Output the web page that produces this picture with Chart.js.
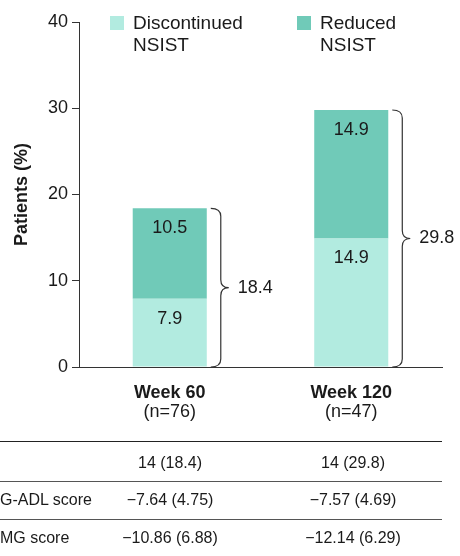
<!DOCTYPE html>
<html>
<head>
<meta charset="utf-8">
<script src="https://cdn.jsdelivr.net/npm/chart.js"></script>
<style>
  body { margin: 0; background: #fff; font-family: "Liberation Sans", Arial, sans-serif; }
  #wrap { position: relative; width: 460px; height: 556px; overflow: hidden; }
  #grafico { position: absolute; left: 0; top: 0; }
  .linha { position: absolute; left: 0; width: 442px; height: 0; border-top: 1px solid #555; }
  .cel { position: absolute; font-size: 16px; color: #1a1a1a; transform: translate(-50%, -50%); white-space: nowrap; }
  .rotulo { position: absolute; left: 0; font-size: 16px; color: #1a1a1a; transform: translateY(-50%); white-space: nowrap; }
</style>
</head>
<body>
<div id="wrap">
  <canvas id="grafico" width="460" height="556"></canvas>
  <div id="tabela"></div>
</div>
<script>
// dados
const semanas = ['Week 60', 'Week 120'];
const amostras = ['(n=76)', '(n=47)'];
const descontinuado = [7.9, 14.9];
const reduzido = [10.5, 14.9];
const ticksY = [0, 10, 20, 30, 40];
const legendas = [['Discontinued', 'NSIST'], ['Reduced', 'NSIST']];
const rotulosTabela = ['', 'G-ADL score', 'MG score'];
const respondedores = ['14 (18.4)', '14 (29.8)'];
const mgadl = ['\u22127.64 (4.75)', '\u22127.57 (4.69)'];
const qmg = ['\u221210.86 (6.88)', '\u221212.14 (6.29)'];

const corClara = '#b2ebe0';
const corEscura = '#70cab8';
const corTexto = '#1a1a1a';
const fonte = '"Liberation Sans", Arial, sans-serif';

// chave (bracket) com o total
function chave(ctx, x, yTop, yBase) {
  const x1 = x + 10, x2 = x + 18, r = 8;
  const meio = (yTop + yBase) / 2;
  ctx.beginPath();
  ctx.moveTo(x, yTop);
  ctx.quadraticCurveTo(x1, yTop, x1, yTop + r);
  ctx.lineTo(x1, meio - r);
  ctx.quadraticCurveTo(x1, meio, x2, meio);
  ctx.quadraticCurveTo(x1, meio, x1, meio + r);
  ctx.lineTo(x1, yBase - r);
  ctx.quadraticCurveTo(x1, yBase, x, yBase);
  ctx.stroke();
}

const extras = {
  id: 'extras',
  afterDatasetsDraw(chart) {
    const ctx = chart.ctx;
    const y = chart.scales.y;
    const x = chart.scales.x;
    ctx.save();
    ctx.fillStyle = corTexto;
    ctx.textAlign = 'center';
    ctx.textBaseline = 'middle';
    ctx.font = '18px ' + fonte;

    // valores dentro das barras
    chart.data.datasets.forEach((ds, i) => {
      chart.getDatasetMeta(i).data.forEach((bar, j) => {
        ctx.fillText(ds.data[j].toFixed(1), bar.x, bar.y + 20);
      });
    });

    // chaves e totais
    ctx.strokeStyle = '#333';
    ctx.lineWidth = 1.2;
    semanas.forEach((s, j) => {
      const bar = chart.getDatasetMeta(0).data[j];
      const direita = bar.x + bar.width / 2;
      const total = descontinuado[j] + reduzido[j];
      const yTop = y.getPixelForValue(total);
      const yBase = y.getPixelForValue(0);
      chave(ctx, direita + 4, yTop, yBase);
      ctx.textAlign = 'left';
      ctx.fillText(total.toFixed(1), direita + 31, (yTop + yBase) / 2);
    });

    // rotulos do eixo x
    ctx.textAlign = 'center';
    semanas.forEach((s, j) => {
      const px = x.getPixelForValue(j);
      ctx.font = 'bold 18px ' + fonte;
      ctx.fillText(s, px, 393);
      ctx.font = '18px ' + fonte;
      ctx.fillText(amostras[j], px, 412);
    });

    // legenda
    const posLeg = [110, 297];
    const cores = [corClara, corEscura];
    ctx.textAlign = 'left';
    ctx.font = '19px ' + fonte;
    legendas.forEach((linhas, i) => {
      ctx.fillStyle = cores[i];
      ctx.fillRect(posLeg[i], 16, 14, 14);
      ctx.fillStyle = corTexto;
      linhas.forEach((t, k) => ctx.fillText(t, posLeg[i] + 23, 24 + k * 22));
    });
    ctx.restore();
  }
};

const ctx = document.getElementById('grafico').getContext('2d');
new Chart(ctx, {
  type: 'bar',
  data: {
    labels: semanas,
    datasets: [
      { label: 'Discontinued NSIST', data: descontinuado, backgroundColor: corClara },
      { label: 'Reduced NSIST', data: reduzido, backgroundColor: corEscura }
    ]
  },
  options: {
    responsive: false,
    animation: false,
    layout: { padding: { top: 22, right: 18, bottom: 129, left: 0 } },
    datasets: { bar: { categoryPercentage: 1, barPercentage: 0.408 } },
    plugins: { legend: { display: false }, tooltip: { enabled: false } },
    scales: {
      x: {
        stacked: true,
        afterFit: s => { s.height = 60; },
        ticks: { display: false },
        grid: { display: false },
        border: { display: true, color: '#333', width: 1 }
      },
      y: {
        stacked: true,
        min: 0,
        max: 40,
        afterFit: s => { s.width = 79; },
        afterBuildTicks: s => { s.ticks = ticksY.map(v => ({ value: v })); },
        ticks: { color: corTexto, padding: 4, font: { size: 18, family: fonte } },
        grid: { drawOnChartArea: false, drawTicks: true, tickLength: 7, color: '#333' },
        border: { display: true, color: '#333', width: 1 },
        title: {
          display: true,
          text: 'Patients (%)',
          color: corTexto,
          padding: { top: 11, bottom: 0 },
          font: { size: 18, weight: 'bold', family: fonte }
        }
      }
    }
  },
  plugins: [extras]
});

// tabela abaixo do grafico
const tabela = document.getElementById('tabela');
const linhasY = [441, 481, 519];
const textoY = [463, 500, 538];
const colunasX = [170, 353];
const valores = [respondedores, mgadl, qmg];

linhasY.forEach((yy, i) => {
  const l = document.createElement('div');
  l.className = 'linha';
  l.style.top = yy + 'px';
  if (i === 0) l.style.borderTopColor = '#222';
  tabela.appendChild(l);
});

valores.forEach((linha, i) => {
  const r = document.createElement('div');
  r.className = 'rotulo';
  r.style.top = textoY[i] + 'px';
  r.textContent = rotulosTabela[i];
  tabela.appendChild(r);
  linha.forEach((v, j) => {
    const c = document.createElement('div');
    c.className = 'cel';
    c.style.left = colunasX[j] + 'px';
    c.style.top = textoY[i] + 'px';
    c.textContent = v;
    tabela.appendChild(c);
  });
});
</script>
</body>
</html>
